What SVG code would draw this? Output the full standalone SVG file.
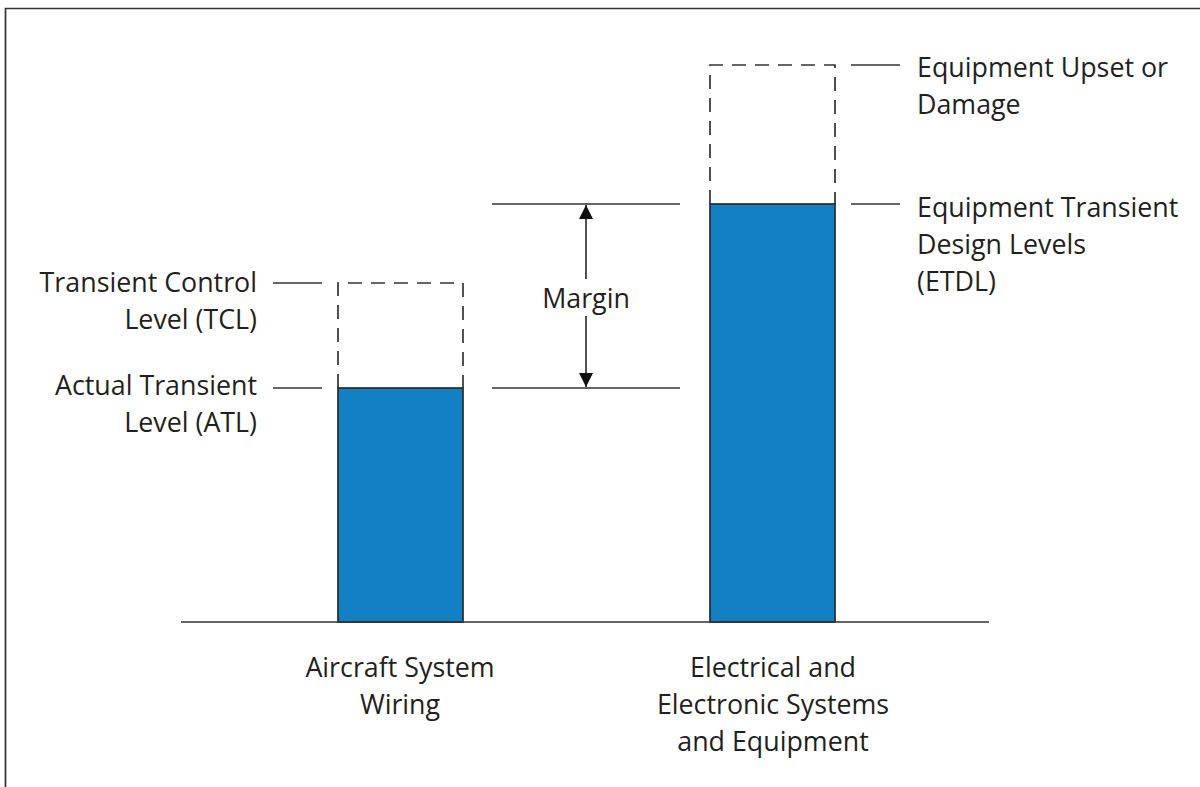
<svg xmlns="http://www.w3.org/2000/svg" width="1200" height="787" viewBox="0 0 1200 787">
<style>
.t{font-family:"Open Sans","Liberation Sans",sans-serif;font-size:26.8px;fill:#231f20}
.ln{stroke:#333;stroke-width:1.7;fill:none}
.dash{stroke:#333;stroke-width:1.7;fill:none;stroke-dasharray:14 9}
.bar{fill:#1380c4;stroke:#2a2a2a;stroke-width:1.7}
</style>
<defs>
<marker id="ah" viewBox="0 0 10 10" refX="10" refY="5" markerWidth="15" markerHeight="14" markerUnits="userSpaceOnUse" orient="auto-start-reverse">
<path d="M0,0 L10,5 L0,10 z" fill="#111"/>
</marker>
</defs>
<rect width="1200" height="787" fill="#fff"/>
<g id="frame"><path class="ln" d="M5.5,787 V8.5 H1200" stroke-width="2"/></g>
<g id="bar-left">
<path class="dash" d="M338,388 V283 H463 V388"/>
<rect class="bar" x="338" y="388" width="125" height="234"/>
</g>
<g id="bar-right">
<path class="dash" d="M710,204 V65 H835 V204"/>
<rect class="bar" x="710" y="204" width="125" height="418"/>
</g>
<g id="connectors">
<line class="ln" x1="181" y1="622" x2="989" y2="622"/>
<line class="ln" x1="273" y1="283" x2="322" y2="283"/>
<line class="ln" x1="273" y1="388" x2="322" y2="388"/>
<line class="ln" x1="851" y1="65" x2="900" y2="65"/>
<line class="ln" x1="851" y1="204" x2="900" y2="204"/>
<line class="ln" x1="492" y1="204" x2="680" y2="204"/>
<line class="ln" x1="492" y1="388" x2="680" y2="388"/>
<line class="ln" x1="586" y1="279" x2="586" y2="205" marker-end="url(#ah)"/>
<line class="ln" x1="586" y1="316" x2="586" y2="387" marker-end="url(#ah)"/>
</g>
<g id="label-tcl"><text class="t" text-anchor="end"><tspan x="257" y="292">Transient Control</tspan><tspan x="257" y="329">Level (TCL)</tspan></text></g>
<g id="label-atl"><text class="t" text-anchor="end"><tspan x="257" y="395">Actual Transient</tspan><tspan x="257" y="432">Level (ATL)</tspan></text></g>
<g id="label-margin"><text class="t" x="586" y="308" text-anchor="middle">Margin</text></g>
<g id="label-upset"><text class="t"><tspan x="917" y="77">Equipment Upset or</tspan><tspan x="917" y="114">Damage</tspan></text></g>
<g id="label-etdl"><text class="t"><tspan x="917" y="217">Equipment Transient</tspan><tspan x="917" y="254">Design Levels</tspan><tspan x="917" y="291">(ETDL)</tspan></text></g>
<g id="label-wiring"><text class="t" text-anchor="middle"><tspan x="400" y="677">Aircraft System</tspan><tspan x="400" y="714">Wiring</tspan></text></g>
<g id="label-equip"><text class="t" text-anchor="middle"><tspan x="773" y="677">Electrical and</tspan><tspan x="773" y="714">Electronic Systems</tspan><tspan x="773" y="751">and Equipment</tspan></text></g>
</svg>
